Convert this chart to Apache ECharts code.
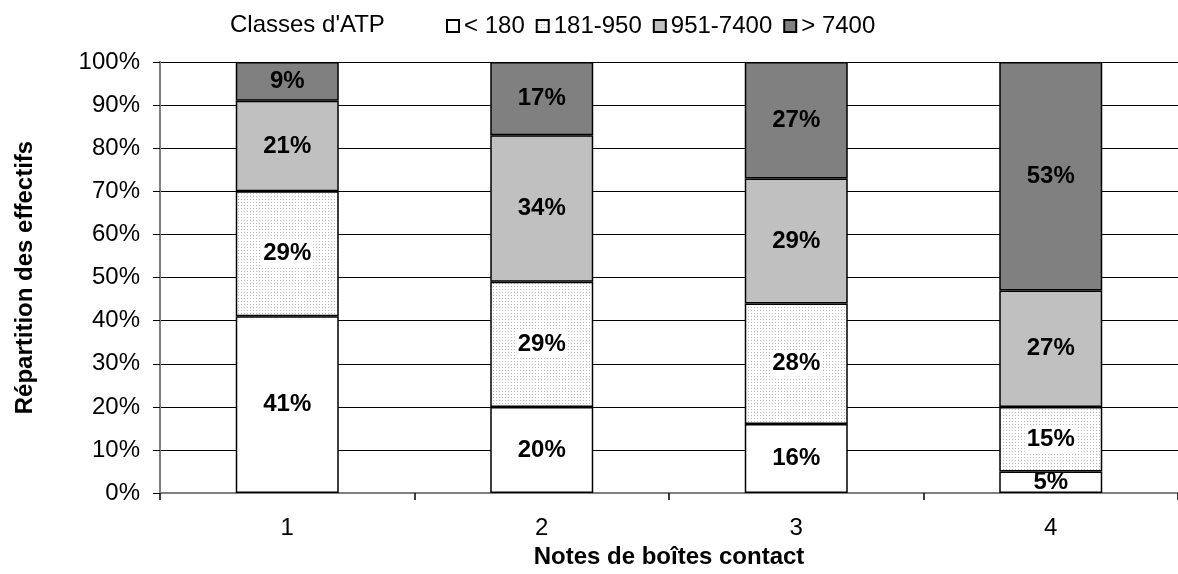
<!DOCTYPE html>
<html>
<head>
<meta charset="utf-8">
<script src="https://cdn.jsdelivr.net/npm/echarts@6/dist/echarts.min.js"></script>
<style>
  html, body { margin: 0; padding: 0; background: #fff; }
  #chart { width: 1178px; height: 574px; }
</style>
</head>
<body>
<div id="chart"></div>
<script>
  // notes de boites contact
  var categories = ['1', '2', '3', '4'];
  var classNames = ['< 180', '181-950', '951-7400', '> 7400'];
  // part de chaque classe d'ATP (%)
  var lt180 = [41, 20, 16, 5];
  var c181_950 = [29, 29, 28, 15];
  var c951_7400 = [21, 34, 29, 27];
  var gt7400 = [9, 17, 27, 53];

  var FONT = '"Liberation Sans", Arial, sans-serif';

  // motif pointillé pour la classe 181-950
  function dotPattern() {
    var c = document.createElement('canvas');
    c.width = 3; c.height = 3;
    var ctx = c.getContext('2d');
    ctx.fillStyle = '#ffffff';
    ctx.fillRect(0, 0, 3, 3);
    ctx.fillStyle = '#b8b8b8';
    ctx.fillRect(1, 1, 1, 1);
    return c;
  }

  var fills = ['#ffffff', { image: dotPattern(), repeat: 'repeat' }, '#c0c0c0', '#808080'];
  var values = [lt180, c181_950, c951_7400, gt7400];

  var series = classNames.map(function (name, i) {
    return {
      name: name,
      type: 'bar',
      stack: 'total',
      barWidth: 103,
      data: values[i],
      itemStyle: { color: fills[i], borderColor: '#000', borderWidth: 1.5 },
      label: {
        show: true,
        position: 'inside',
        formatter: '{c}%',
        color: '#000',
        fontFamily: FONT,
        fontWeight: 'bold',
        fontSize: 24,
        backgroundColor: i === 1 ? '#fff' : 'transparent',
        padding: i === 1 ? [1, 2] : 0
      }
    };
  });

  var chart = echarts.init(document.getElementById('chart'));
  chart.setOption({
    animation: false,
    textStyle: { fontFamily: FONT },
    grid: { left: 160, top: 62, width: 1022, height: 440 },
    graphic: [
      {
        type: 'text', left: 230, top: 13,
        style: { text: "Classes d'ATP", font: '24px ' + FONT, fill: '#000' }
      }
    ],
    legend: {
      left: 441, top: 9,
      itemWidth: 12, itemHeight: 12, itemGap: 11,
      icon: 'rect',
      data: classNames,
      textStyle: { fontFamily: FONT, fontSize: 24, color: '#000' }
    },
    xAxis: {
      type: 'category',
      data: categories,
      name: 'Notes de boîtes contact',
      nameLocation: 'middle',
      nameGap: 44,
      nameTextStyle: { fontSize: 24, fontWeight: 'bold', color: '#000', fontFamily: FONT },
      axisLine: { lineStyle: { color: '#808080', width: 2 } },
      axisTick: { show: true, length: 7, lineStyle: { color: '#000', width: 1.5 } },
      axisLabel: { color: '#000', fontSize: 24, fontFamily: FONT, margin: 23 }
    },
    yAxis: {
      type: 'value',
      min: 0, max: 100, interval: 10,
      name: 'Répartition des effectifs',
      nameLocation: 'middle',
      nameGap: 123,
      nameTextStyle: { fontSize: 24, fontWeight: 'bold', color: '#000', fontFamily: FONT },
      axisLine: { show: true, lineStyle: { color: '#808080', width: 2 } },
      axisTick: { show: true, length: 7, lineStyle: { color: '#000' } },
      axisLabel: { formatter: '{value}%', color: '#000', fontSize: 24, fontFamily: FONT, margin: 20 },
      splitLine: { show: true, lineStyle: { color: '#000', width: 1 } }
    },
    series: series
  });
</script>
</body>
</html>
